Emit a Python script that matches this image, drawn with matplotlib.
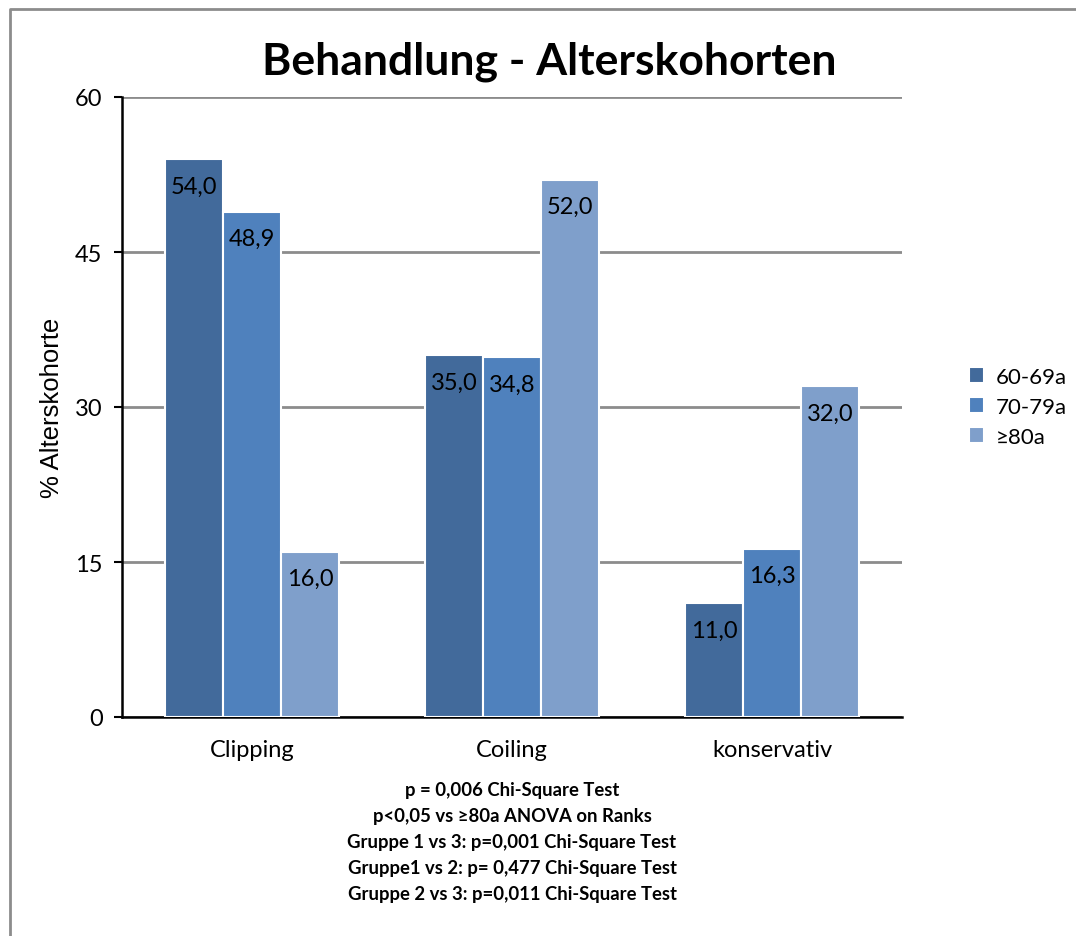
import matplotlib.pyplot as plt
import numpy as np
from matplotlib.lines import Line2D

categories = ["Clipping", "Coiling", "konservativ"]
groups = ["60-69a", "70-79a", "≥80a"]
values_60 = [54.0, 35.0, 11.0]
values_70 = [48.9, 34.8, 16.3]
values_80 = [16.0, 52.0, 32.0]
colors = ["#426A9B", "#4F81BD", "#7F9FCB"]
notes = [
    "p = 0,006 Chi-Square Test",
    "p<0,05 vs ≥80a ANOVA on Ranks",
    "Gruppe 1 vs 3: p=0,001 Chi-Square Test",
    "Gruppe1 vs 2: p= 0,477 Chi-Square Test",
    "Gruppe 2 vs 3: p=0,011 Chi-Square Test",
]

plt.rcParams['font.family'] = ['Lato', 'DejaVu Sans']

fig = plt.figure(figsize=(10.76, 9.37), dpi=100)
ax = fig.add_axes([122 / 1076, 1 - 718 / 937, 780 / 1076, 620 / 937])

# outer chart border (only top and left visible)
fig.lines.append(Line2D([10 / 1076, 10 / 1076, 1.0], [0.0, 1 - 10 / 937, 1 - 10 / 937],
                        transform=fig.transFigure, color="#8c8c8c", linewidth=2))

x = np.arange(len(categories))
w = 58 / 260
series = [values_60, values_70, values_80]
for i, (vals, col, lab) in enumerate(zip(series, colors, groups)):
    bars = ax.bar(x + (i - 1) * w, vals, w, color=col, edgecolor="white",
                  linewidth=1.5, label=lab, zorder=3)
    for b, v in zip(bars, vals):
        ax.text(b.get_x() + b.get_width() / 2, v - 1.6,
                f"{v:.1f}".replace(".", ","), ha="center", va="top",
                fontsize=17, color="black", zorder=4)

ax.set_xlim(-0.5, 2.5)
ax.set_ylim(0, 60)
ax.set_yticks([0, 15, 30, 45, 60])
ax.tick_params(axis="y", labelsize=17, length=6, width=1.5, pad=8)
ax.tick_params(axis="x", labelsize=17, length=0, pad=16)
ax.set_xticks(x)
ax.set_xticklabels(categories)
ax.yaxis.grid(True, color="#8c8c8c", linewidth=2, zorder=0)
ax.set_axisbelow(True)
for s in ["top", "right"]:
    ax.spines[s].set_visible(False)
ax.spines["left"].set_linewidth(1.8)
ax.spines["bottom"].set_linewidth(1.8)

ax.set_ylabel("% Alterskohorte", fontsize=18.5, family="Liberation Sans", labelpad=8)
fig.text(549 / 1076, 1 - 62 / 937, "Behandlung - Alterskohorten",
         ha="center", va="center", fontsize=32, fontweight="bold")

ax.legend(loc="center left", bbox_to_anchor=(1.06, 0.5), frameon=False,
          fontsize=16, handlelength=0.7, handleheight=0.7, handletextpad=0.5,
          labelspacing=0.45)

for k, line in enumerate(notes):
    fig.text(512 / 1076, 1 - (791 + k * 26) / 937, line, ha="center",
             va="center", fontsize=13.3, fontweight="bold")

fig.savefig("out.png", dpi=100)
